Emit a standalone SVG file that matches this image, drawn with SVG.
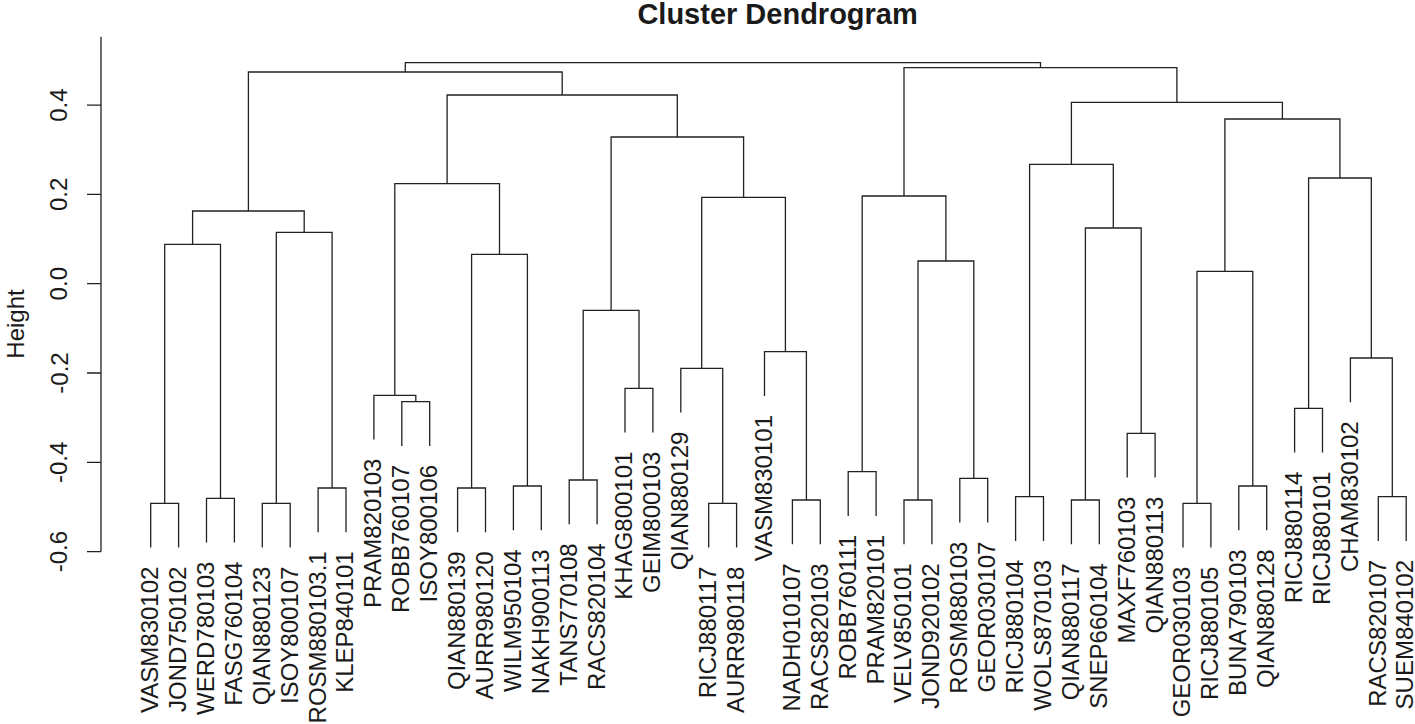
<svg xmlns="http://www.w3.org/2000/svg" width="1415" height="724" viewBox="0 0 1415 724">
<style>
text{font-family:"Liberation Sans",Arial,sans-serif;fill:#1a1a1a}
.lf{font-size:24px;text-anchor:end}
.tk{font-size:24px;text-anchor:middle}
.ln{fill:none;stroke:#222;stroke-width:1.3}
</style>
<rect width="1415" height="724" fill="#fff"/>
<g id="title"><text x="777.6" y="24" style="font-size:29px;font-weight:bold;text-anchor:middle">Cluster Dendrogram</text></g>
<g id="axis">
<path class="ln" d="M101 36.7V551.6M87 105.1H101M87 194.4H101M87 283.7H101M87 373H101M87 462.3H101M87 551.6H101"/>
<text class="tk" transform="rotate(-90 67.5 105.1)" x="67.5" y="105.1">0.4</text>
<text class="tk" transform="rotate(-90 67.5 194.4)" x="67.5" y="194.4">0.2</text>
<text class="tk" transform="rotate(-90 67.5 283.7)" x="67.5" y="283.7">0.0</text>
<text class="tk" transform="rotate(-90 67.5 373)" x="67.5" y="373">-0.2</text>
<text class="tk" transform="rotate(-90 67.5 462.3)" x="67.5" y="462.3">-0.4</text>
<text class="tk" transform="rotate(-90 67.5 551.6)" x="67.5" y="551.6">-0.6</text>
<text class="tk" transform="rotate(-90 23.5 324)" x="23.5" y="324">Height</text>
</g>
<g id="connectors" class="ln">
<path d="M150.7 547.6V503.3H178.6V547.6"/>
<path d="M206.5 542.6V498.3H234.4V542.6"/>
<path d="M262.3 547.6V503.3H290.2V547.6"/>
<path d="M318.1 532.3V488H346V532.3"/>
<path d="M164.7 503.3V244.3H220.5V498.3"/>
<path d="M276.3 503.3V232.3H332.1V488"/>
<path d="M192.6 244.3V211H304.2V232.3"/>
<path d="M401.8 446V401.7H429.7V446"/>
<path d="M373.9 439.6V395.3H415.8V401.7"/>
<path d="M457.6 532.3V488H485.5V532.3"/>
<path d="M513.4 530.3V486H541.3V530.3"/>
<path d="M471.6 488V254.3H527.4V486"/>
<path d="M394.8 395.3V183.7H499.5V254.3"/>
<path d="M569.2 524.3V480H597.1V524.3"/>
<path d="M625 432.6V388.3H652.9V432.6"/>
<path d="M583.2 480V310.3H639V388.3"/>
<path d="M708.7 547.6V503.3H736.6V547.6"/>
<path d="M680.8 412.6V368.3H722.7V503.3"/>
<path d="M792.4 544.3V500H820.3V544.3"/>
<path d="M764.5 396V351.7H806.4V500"/>
<path d="M701.7 368.3V197.3H785.4V351.7"/>
<path d="M611.1 310.3V137H743.6V197.3"/>
<path d="M447.1 183.7V95H677.3V137"/>
<path d="M248.4 211V72H562.2V95"/>
<path d="M848.2 516V471.7H876.1V516"/>
<path d="M904 544.3V500H931.9V544.3"/>
<path d="M959.8 522.6V478.3H987.7V522.6"/>
<path d="M918 500V261H973.8V478.3"/>
<path d="M862.2 471.7V196H945.9V261"/>
<path d="M1015.6 541V496.7H1043.5V541"/>
<path d="M1071.4 544.3V500H1099.3V544.3"/>
<path d="M1127.2 477.6V433.3H1155.1V477.6"/>
<path d="M1085.4 500V228H1141.2V433.3"/>
<path d="M1029.6 496.7V164.3H1113.3V228"/>
<path d="M1183 547.6V503.3H1210.9V547.6"/>
<path d="M1238.8 530.3V486H1266.7V530.3"/>
<path d="M1197 503.3V271.3H1252.8V486"/>
<path d="M1294.6 452.6V408.3H1322.5V452.6"/>
<path d="M1378.3 541V496.7H1406.2V541"/>
<path d="M1350.4 402.3V358H1392.3V496.7"/>
<path d="M1308.6 408.3V178H1371.3V358"/>
<path d="M1224.9 271.3V119H1339.9V178"/>
<path d="M1071.4 164.3V102.3H1282.4V119"/>
<path d="M904 196V67.7H1176.9V102.3"/>
<path d="M405.3 72V62.7H1040.5V67.7"/>
</g>
<g id="leaves">
<g id="leaf-VASM830102"><text class="lf" transform="rotate(-90 158.2 566.6)" x="158.2" y="566.6">VASM830102</text></g>
<g id="leaf-JOND750102"><text class="lf" transform="rotate(-90 186.1 566.6)" x="186.1" y="566.6">JOND750102</text></g>
<g id="leaf-WERD780103"><text class="lf" transform="rotate(-90 214 561.6)" x="214" y="561.6">WERD780103</text></g>
<g id="leaf-FASG760104"><text class="lf" transform="rotate(-90 241.9 561.6)" x="241.9" y="561.6">FASG760104</text></g>
<g id="leaf-QIAN880123"><text class="lf" transform="rotate(-90 269.8 566.6)" x="269.8" y="566.6">QIAN880123</text></g>
<g id="leaf-ISOY800107"><text class="lf" transform="rotate(-90 297.7 566.6)" x="297.7" y="566.6">ISOY800107</text></g>
<g id="leaf-ROSM880103.1"><text class="lf" transform="rotate(-90 325.6 551.3)" x="325.6" y="551.3">ROSM880103.1</text></g>
<g id="leaf-KLEP840101"><text class="lf" transform="rotate(-90 353.5 551.3)" x="353.5" y="551.3">KLEP840101</text></g>
<g id="leaf-PRAM820103"><text class="lf" transform="rotate(-90 381.4 458.6)" x="381.4" y="458.6">PRAM820103</text></g>
<g id="leaf-ROBB760107"><text class="lf" transform="rotate(-90 409.3 465)" x="409.3" y="465">ROBB760107</text></g>
<g id="leaf-ISOY800106"><text class="lf" transform="rotate(-90 437.2 465)" x="437.2" y="465">ISOY800106</text></g>
<g id="leaf-QIAN880139"><text class="lf" transform="rotate(-90 465.1 551.3)" x="465.1" y="551.3">QIAN880139</text></g>
<g id="leaf-AURR980120"><text class="lf" transform="rotate(-90 493 551.3)" x="493" y="551.3">AURR980120</text></g>
<g id="leaf-WILM950104"><text class="lf" transform="rotate(-90 520.9 549.3)" x="520.9" y="549.3">WILM950104</text></g>
<g id="leaf-NAKH900113"><text class="lf" transform="rotate(-90 548.8 549.3)" x="548.8" y="549.3">NAKH900113</text></g>
<g id="leaf-TANS770108"><text class="lf" transform="rotate(-90 576.7 543.3)" x="576.7" y="543.3">TANS770108</text></g>
<g id="leaf-RACS820104"><text class="lf" transform="rotate(-90 604.6 543.3)" x="604.6" y="543.3">RACS820104</text></g>
<g id="leaf-KHAG800101"><text class="lf" transform="rotate(-90 632.5 451.6)" x="632.5" y="451.6">KHAG800101</text></g>
<g id="leaf-GEIM800103"><text class="lf" transform="rotate(-90 660.4 451.6)" x="660.4" y="451.6">GEIM800103</text></g>
<g id="leaf-QIAN880129"><text class="lf" transform="rotate(-90 688.3 431.6)" x="688.3" y="431.6">QIAN880129</text></g>
<g id="leaf-RICJ880117"><text class="lf" transform="rotate(-90 716.2 566.6)" x="716.2" y="566.6">RICJ880117</text></g>
<g id="leaf-AURR980118"><text class="lf" transform="rotate(-90 744.1 566.6)" x="744.1" y="566.6">AURR980118</text></g>
<g id="leaf-VASM830101"><text class="lf" transform="rotate(-90 772 415)" x="772" y="415">VASM830101</text></g>
<g id="leaf-NADH010107"><text class="lf" transform="rotate(-90 799.9 563.3)" x="799.9" y="563.3">NADH010107</text></g>
<g id="leaf-RACS820103"><text class="lf" transform="rotate(-90 827.8 563.3)" x="827.8" y="563.3">RACS820103</text></g>
<g id="leaf-ROBB760111"><text class="lf" transform="rotate(-90 855.7 535)" x="855.7" y="535">ROBB760111</text></g>
<g id="leaf-PRAM820101"><text class="lf" transform="rotate(-90 883.6 535)" x="883.6" y="535">PRAM820101</text></g>
<g id="leaf-VELV850101"><text class="lf" transform="rotate(-90 911.5 563.3)" x="911.5" y="563.3">VELV850101</text></g>
<g id="leaf-JOND920102"><text class="lf" transform="rotate(-90 939.4 563.3)" x="939.4" y="563.3">JOND920102</text></g>
<g id="leaf-ROSM880103"><text class="lf" transform="rotate(-90 967.3 541.6)" x="967.3" y="541.6">ROSM880103</text></g>
<g id="leaf-GEOR030107"><text class="lf" transform="rotate(-90 995.2 541.6)" x="995.2" y="541.6">GEOR030107</text></g>
<g id="leaf-RICJ880104"><text class="lf" transform="rotate(-90 1023.1 560)" x="1023.1" y="560">RICJ880104</text></g>
<g id="leaf-WOLS870103"><text class="lf" transform="rotate(-90 1051 560)" x="1051" y="560">WOLS870103</text></g>
<g id="leaf-QIAN880117"><text class="lf" transform="rotate(-90 1078.9 563.3)" x="1078.9" y="563.3">QIAN880117</text></g>
<g id="leaf-SNEP660104"><text class="lf" transform="rotate(-90 1106.8 563.3)" x="1106.8" y="563.3">SNEP660104</text></g>
<g id="leaf-MAXF760103"><text class="lf" transform="rotate(-90 1134.7 496.6)" x="1134.7" y="496.6">MAXF760103</text></g>
<g id="leaf-QIAN880113"><text class="lf" transform="rotate(-90 1162.6 496.6)" x="1162.6" y="496.6">QIAN880113</text></g>
<g id="leaf-GEOR030103"><text class="lf" transform="rotate(-90 1190.5 566.6)" x="1190.5" y="566.6">GEOR030103</text></g>
<g id="leaf-RICJ880105"><text class="lf" transform="rotate(-90 1218.4 566.6)" x="1218.4" y="566.6">RICJ880105</text></g>
<g id="leaf-BUNA790103"><text class="lf" transform="rotate(-90 1246.3 549.3)" x="1246.3" y="549.3">BUNA790103</text></g>
<g id="leaf-QIAN880128"><text class="lf" transform="rotate(-90 1274.2 549.3)" x="1274.2" y="549.3">QIAN880128</text></g>
<g id="leaf-RICJ880114"><text class="lf" transform="rotate(-90 1302.1 471.6)" x="1302.1" y="471.6">RICJ880114</text></g>
<g id="leaf-RICJ880101"><text class="lf" transform="rotate(-90 1330 471.6)" x="1330" y="471.6">RICJ880101</text></g>
<g id="leaf-CHAM830102"><text class="lf" transform="rotate(-90 1357.9 421.3)" x="1357.9" y="421.3">CHAM830102</text></g>
<g id="leaf-RACS820107"><text class="lf" transform="rotate(-90 1385.8 560)" x="1385.8" y="560">RACS820107</text></g>
<g id="leaf-SUEM840102"><text class="lf" transform="rotate(-90 1412.5 560)" x="1412.5" y="560">SUEM840102</text></g>
</g>
</svg>
